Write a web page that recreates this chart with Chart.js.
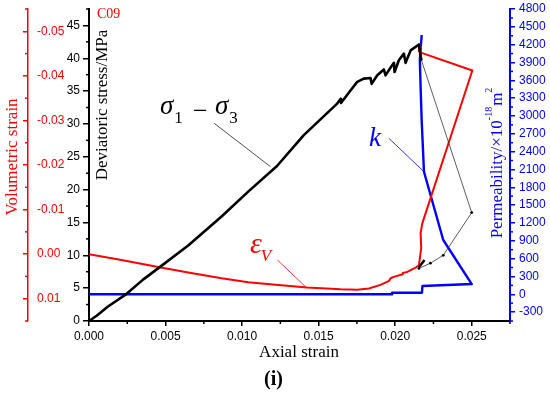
<!DOCTYPE html>
<html>
<head>
<meta charset="utf-8">
<script src="https://cdn.jsdelivr.net/npm/chart.js@4.4.0/dist/chart.umd.min.js"></script>
<style>
  html, body { margin: 0; padding: 0; background: #fff; }
  canvas { display: block; }
</style>
</head>
<body>
<canvas id="mychart" width="550" height="396"></canvas>
<script>
var RED = '#ff0000';
var BLUE = '#0000ff';

// tick labels
var strainTicks = [0, 0.005, 0.01, 0.015, 0.02, 0.025];
var stressTicks = [0, 5, 10, 15, 20, 25, 30, 35, 40, 45];
var volTicks = [-0.05, -0.04, -0.03, -0.02, -0.01, 0, 0.01];
var permTicks = [-300, 0, 300, 600, 900, 1200, 1500, 1800, 2100, 2400, 2700, 3000, 3300, 3600, 3900, 4200, 4500, 4800];

// deviatoric stress (sigma1 - sigma3), MPa
var stressStrain = [0, 0.0005, 0.00124, 0.00244, 0.00353, 0.00462, 0.00648, 0.00866, 0.0104, 0.01228, 0.01403, 0.01621, 0.01643, 0.01646, 0.01708, 0.01752, 0.01795, 0.01839, 0.01846, 0.01883, 0.01926, 0.01937, 0.01959, 0.01992, 0.01996, 0.02024, 0.02057, 0.02068, 0.02101, 0.02155, 0.0217];
var stressValues = [0, 0.8, 2.2, 4.1, 6.3, 8.2, 11.5, 15.9, 19.7, 23.6, 28.3, 33.1, 33.8, 33.2, 35.1, 36.4, 36.9, 37.0, 36.1, 37.4, 38.3, 37.4, 38.2, 39.3, 37.9, 39.7, 40.7, 39.3, 41.2, 42.1, 39.8];

// post-peak points (thin line)
var postStrain = [0.0217, 0.0250, 0.02314, 0.0223, 0.02155];
var postStress = [39.8, 16.5, 10.0, 8.8, 8.0];
var tailStrain = [0.02155, 0.02192];
var tailStress = [8.2, 9.3];

// volumetric strain
var volStrain = [0, 0.00212, 0.00469, 0.00648, 0.00866, 0.0104, 0.01237, 0.01425, 0.01643, 0.01752, 0.01828, 0.01904, 0.0196, 0.0197, 0.01991, 0.0205, 0.0205, 0.02079, 0.0213, 0.02155, 0.0217, 0.02166, 0.02177, 0.02504, 0.02177, 0.02155, 0.02155, 0.02173];
var volValues = [0, 0.0013, 0.0030, 0.0041, 0.0054, 0.0063, 0.0069, 0.0075, 0.0079, 0.0080, 0.0077, 0.0069, 0.0060, 0.0054, 0.0051, 0.0045, 0.0042, 0.0040, 0.0031, 0.0025, -0.0014, -0.0047, -0.0069, -0.0412, -0.0451, -0.0455, -0.0464, -0.0466];

// permeability, 1e-18 m^2
var permStrain = [0, 0.0198, 0.0198, 0.02175, 0.02178, 0.0250, 0.02314, 0.02188, 0.02173, 0.02166, 0.02161, 0.02173];
var permValues = [0, 0, 25, 25, 139, 172, 913, 2062, 2930, 3490, 3940, 4362];

// leader lines for the curve labels (strain, axis value)
var sigmaLeader = [[0.00818, 30.1], [0.01185, 23.5]];
var epsLeader = [[0.0123, 0.0013], [0.01414, 0.0073]];
var kLeader = [[0.01959, 2624], [0.02188, 2062]];

function pts(xs, ys) {
    return xs.map(function(x, i) { return {x: x, y: ys[i]}; });
}

function fixedTicks(values) {
    return function(scale) {
        scale.ticks = values.map(function(v) { return {value: v}; });
    };
}

// fixed box size, no label overhang padding
function fitV(w) {
    return function(s) { s.width = w; s.paddingTop = 0; s.paddingBottom = 0; };
}

var tickFont = {family: "'Liberation Sans', Arial, sans-serif", size: 12};
var serif = "'Liberation Serif', 'Times New Roman', serif";

// short minor ticks between the labelled ones
var minorTicks = {
    id: 'minorTicks',
    afterDraw: function(chart) {
        var ctx = chart.ctx;
        var specs = [
            {id: 'x', step: 0.005, color: '#000'},
            {id: 'yStress', step: 5, color: '#000'},
            {id: 'yVol', step: 0.01, color: RED},
            {id: 'yK', step: 300, color: BLUE}
        ];
        ctx.save();
        ctx.lineWidth = 1.5;
        specs.forEach(function(sp) {
            var s = chart.scales[sp.id];
            var lo = Math.min(s.min, s.max), hi = Math.max(s.min, s.max);
            var first = s.ticks[0].value - sp.step / 2;
            ctx.strokeStyle = sp.color;
            for (var i = 0; i < 60; i++) {
                var v = first + i * sp.step;
                if (v > hi + sp.step * 1e-3) break;
                if (v < lo - sp.step * 1e-3) continue;
                var p = s.getPixelForValue(v);
                ctx.beginPath();
                if (sp.id === 'x') {
                    ctx.moveTo(p, s.top); ctx.lineTo(p, s.top + 3);
                } else if (s.position === 'left') {
                    ctx.moveTo(s.right - 3, p); ctx.lineTo(s.right, p);
                } else {
                    ctx.moveTo(s.left, p); ctx.lineTo(s.left + 3, p);
                }
                ctx.stroke();
            }
        });
        ctx.restore();
    }
};

function vText(ctx, parts, x, yc, color) {
    ctx.save();
    ctx.fillStyle = color;
    ctx.textBaseline = 'alphabetic';
    ctx.textAlign = 'left';
    var w = 0;
    parts.forEach(function(p) { ctx.font = p.font; w += ctx.measureText(p.t).width + (p.gap || 0); });
    ctx.translate(x, yc);
    ctx.rotate(-Math.PI / 2);
    var u = -w / 2;
    parts.forEach(function(p) {
        ctx.font = p.font;
        ctx.fillText(p.t, u, p.dy || 0);
        u += ctx.measureText(p.t).width + (p.gap || 0);
    });
    ctx.restore();
}

function leader(chart, axis, seg, color) {
    var ctx = chart.ctx, sx = chart.scales.x, sy = chart.scales[axis];
    ctx.save();
    ctx.strokeStyle = color;
    ctx.lineWidth = 0.8;
    ctx.beginPath();
    ctx.moveTo(sx.getPixelForValue(seg[0][0]), sy.getPixelForValue(seg[0][1]));
    ctx.lineTo(sx.getPixelForValue(seg[1][0]), sy.getPixelForValue(seg[1][1]));
    ctx.stroke();
    ctx.restore();
}

// glyph followed by a lowered subscript
function subText(ctx, main, mainFont, sub, subFont, x, y, subY, gap) {
    ctx.font = mainFont;
    ctx.fillText(main, x, y);
    var w = ctx.measureText(main).width;
    ctx.font = subFont;
    ctx.fillText(sub, x + w + gap, subY);
}

var labels = {
    id: 'labels',
    afterDraw: function(chart) {
        var ctx = chart.ctx;
        leader(chart, 'yStress', sigmaLeader, '#222');
        leader(chart, 'yVol', epsLeader, RED);
        leader(chart, 'yK', kLeader, BLUE);

        // axis titles
        vText(ctx, [{t: 'Volumetric strain', font: '17px ' + serif}], 16.5, 157, RED);
        vText(ctx, [{t: 'Deviatoric stress/MPa', font: '17px ' + serif}], 107, 105, '#000');
        vText(ctx, [
            {t: 'Permeability/\u00d710', font: '17px ' + serif},
            {t: '-18', font: '10px ' + serif, dy: -10, gap: 1},
            {t: 'm', font: '17px ' + serif},
            {t: '2', font: '10px ' + serif, dy: -10}
        ], 502, 163, BLUE);

        ctx.save();
        ctx.textBaseline = 'alphabetic';
        ctx.fillStyle = '#000';
        ctx.textAlign = 'center';
        ctx.font = '17px ' + serif;
        ctx.fillText('Axial strain', 299, 356.5);
        ctx.font = 'bold 20px ' + serif;
        ctx.fillText('(i)', 273.5, 384.5);

        ctx.textAlign = 'left';
        ctx.fillStyle = RED;
        ctx.font = '14px ' + serif;
        ctx.fillText('C09', 97, 18);

        // curve names
        ctx.fillStyle = '#000';
        subText(ctx, '\u03c3', 'italic 27px ' + serif, '1', '17px ' + serif, 160, 113.5, 123, 1);
        subText(ctx, '\u03c3', 'italic 27px ' + serif, '3', '17px ' + serif, 215, 113.5, 123, 1);
        ctx.font = '26px ' + serif;
        ctx.fillText('\u2212', 193, 119);

        ctx.fillStyle = RED;
        subText(ctx, '\u03b5', 'italic 30px ' + serif, 'V', 'italic 17px ' + serif, 250, 253, 261, -1);

        ctx.fillStyle = BLUE;
        ctx.font = 'italic 27px ' + serif;
        ctx.fillText('k', 369, 146);
        ctx.restore();
    }
};

var myChart = new Chart(document.getElementById('mychart'), {
    type: 'scatter',
    data: {
        datasets: [{
            label: 'sigma1 - sigma3',
            data: pts(stressStrain, stressValues),
            yAxisID: 'yStress',
            showLine: true,
            borderColor: '#000',
            borderWidth: 2.6,
            pointRadius: 0,
            borderJoinStyle: 'round'
        }, {
            label: 'post peak',
            data: pts(tailStrain, tailStress),
            yAxisID: 'yStress',
            showLine: true,
            borderColor: '#000',
            borderWidth: 2.4,
            pointRadius: 0
        }, {
            label: 'post peak thin',
            data: pts(postStrain, postStress),
            yAxisID: 'yStress',
            showLine: true,
            borderColor: '#333',
            borderWidth: 0.8,
            pointRadius: 1.4,
            pointBackgroundColor: '#000',
            pointBorderWidth: 0
        }, {
            label: 'volumetric strain',
            data: pts(volStrain, volValues),
            yAxisID: 'yVol',
            showLine: true,
            borderColor: RED,
            borderWidth: 2,
            pointRadius: 0,
            borderJoinStyle: 'round'
        }, {
            label: 'k',
            data: pts(permStrain, permValues),
            yAxisID: 'yK',
            showLine: true,
            borderColor: BLUE,
            borderWidth: 2.4,
            pointRadius: 0,
            borderJoinStyle: 'round'
        }]
    },
    options: {
        responsive: false,
        devicePixelRatio: 1,
        animation: false,
        layout: {padding: {top: 9, left: 0, right: 0, bottom: 0}},
        plugins: {legend: {display: false}, tooltip: {enabled: false}},
        scales: {
            x: {
                type: 'linear',
                position: 'bottom',
                min: 0,
                max: 0.0275,
                afterFit: function(s) { s.height = 75; s.paddingLeft = 0; s.paddingRight = 0; },
                afterBuildTicks: fixedTicks(strainTicks),
                grid: {drawOnChartArea: false, tickLength: 5, tickColor: '#000', lineWidth: 1.5},
                border: {color: '#000', width: 2},
                ticks: {color: '#000', font: tickFont, padding: 3, autoSkip: false, maxRotation: 0,
                    callback: function(v) { return v.toFixed(3); }}
            },
            yStress: {
                type: 'linear',
                position: 'left',
                weight: 0,
                min: 0,
                max: 47.5,
                afterFit: fitV(61),
                afterBuildTicks: fixedTicks(stressTicks),
                grid: {drawOnChartArea: false, tickLength: 6, tickColor: '#000', lineWidth: 1.5},
                border: {color: '#000', width: 2},
                ticks: {color: '#000', font: tickFont, padding: 3, autoSkip: false,
                    callback: function(v) { return String(v); }}
            },
            yVol: {
                type: 'linear',
                position: 'left',
                weight: 1,
                reverse: true,
                min: -0.055,
                max: 0.015,
                afterFit: fitV(28),
                afterBuildTicks: fixedTicks(volTicks),
                grid: {drawOnChartArea: false, tickLength: 5, tickColor: RED, lineWidth: 1.5},
                border: {color: RED, width: 1.5},
                ticks: {color: RED, font: tickFont, padding: 9, mirror: true, autoSkip: false,
                    callback: function(v) { return v.toFixed(2); }}
            },
            yK: {
                type: 'linear',
                position: 'right',
                min: -450,
                max: 4800,
                afterFit: fitV(40),
                afterBuildTicks: fixedTicks(permTicks),
                grid: {drawOnChartArea: false, tickLength: 5, tickColor: BLUE, lineWidth: 1.5},
                border: {color: BLUE, width: 2},
                ticks: {color: BLUE, font: tickFont, padding: 4, autoSkip: false,
                    callback: function(v) { return String(v); }}
            }
        }
    },
    plugins: [minorTicks, labels]
});
</script>
</body>
</html>
